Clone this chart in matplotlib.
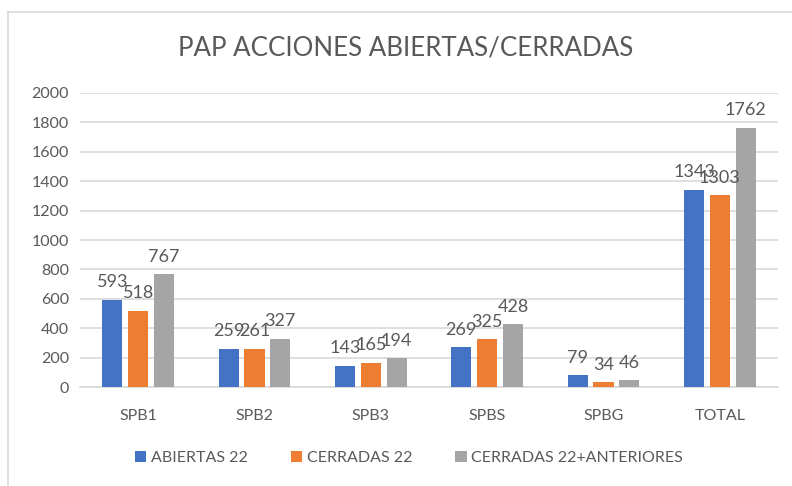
import matplotlib
matplotlib.use("Agg")
import matplotlib.pyplot as plt
import numpy as np
from matplotlib.lines import Line2D

categories = ["SPB1", "SPB2", "SPB3", "SPBS", "SPBG", "TOTAL"]
abiertas = [593, 259, 143, 269, 79, 1343]
cerradas = [518, 261, 165, 325, 34, 1303]
cerradas_ant = [767, 327, 194, 428, 46, 1762]
series_names = ["ABIERTAS 22", "CERRADAS 22", "CERRADAS 22+ANTERIORES"]
colors = ["#4472C4", "#ED7D31", "#A5A5A5"]
yticks = [0, 200, 400, 600, 800, 1000, 1200, 1400, 1600, 1800, 2000]

plt.rcParams['font.family'] = ['Lato', 'DejaVu Sans']
txt = "#595959"

fig = plt.figure(figsize=(7.92, 4.86), dpi=100)
ax = fig.add_axes([80/792, 1-387/486, 698/792, (387-93)/486])

x = np.arange(len(categories))
w = 0.172
off = 0.222
for i, (vals, name, c) in enumerate(zip([abiertas, cerradas, cerradas_ant], series_names, colors)):
    bars = ax.bar(x + (i-1)*off, vals, width=w, color=c, label=name, zorder=3)
    for b, v in zip(bars, vals):
        ax.annotate(str(v), (b.get_x()+b.get_width()/2, v), xytext=(0, 9),
                    textcoords="offset points", ha="center", va="baseline",
                    fontsize=13, color=txt, zorder=4)

ax.set_xlim(-0.5, len(categories)-0.5)
ax.set_ylim(0, 2000)
ax.set_yticks(yticks)
ax.set_xticks(x)
ax.set_xticklabels(categories)
ax.yaxis.grid(True, color="#D9D9D9", linewidth=1.2, zorder=0)
ax.set_axisbelow(True)
for s in ["top", "right", "left"]:
    ax.spines[s].set_visible(False)
ax.spines["bottom"].set_color("#D9D9D9")
ax.spines["bottom"].set_linewidth(1.2)
ax.tick_params(axis="both", length=0, colors=txt, labelsize=11.5)
ax.tick_params(axis="x", pad=16)
ax.tick_params(axis="y", pad=8)

fig.text(406/792, 1-48/486, "PAP ACCIONES ABIERTAS/CERRADAS", ha="center", va="center",
         fontsize=18.6, color=txt)

leg = fig.legend(loc="center", bbox_to_anchor=(409/792, 1-458/486), ncol=3, frameon=False,
                 fontsize=11.5, handlelength=0.7, handleheight=0.7, handletextpad=0.3,
                 columnspacing=2.7, labelcolor=txt)

fig.add_artist(Line2D([8/792, 1], [1-12/486, 1-12/486], color="#D9D9D9", linewidth=1.2))
fig.add_artist(Line2D([8/792, 8/792], [0, 1-12/486], color="#D9D9D9", linewidth=1.2))

fig.savefig("out.png", dpi=100)
